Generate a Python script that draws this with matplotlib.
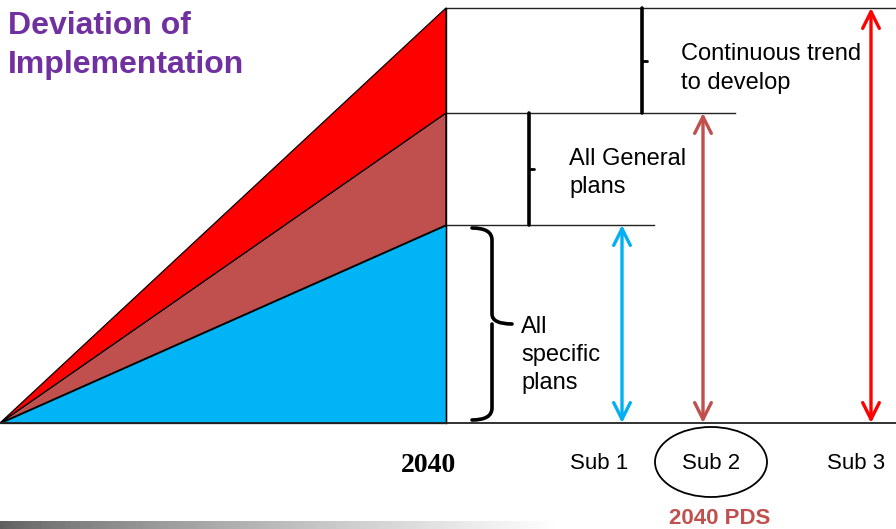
import numpy as np
import matplotlib.pyplot as plt
from matplotlib.patches import Polygon, Ellipse, PathPatch
from matplotlib.path import Path

# layer tops (height above the baseline) for the three planning layers
layer_names = ["All specific plans", "All General plans", "Continuous trend to develop"]
layer_tops = [198, 310, 415]
layer_colors = ["#00B4F5", "#C0504D", "#FF0000"]

# year at the apex of the triangle
year_label = "2040"

# sub scenarios and which layer each one reaches
sub_labels = ["Sub 1", "Sub 2", "Sub 3"]
sub_tops = [198, 310, 415]
sub_colors = ["#00B0F0", "#C0504D", "#FF0000"]
highlight_label = "2040 PDS"

W, H = 896, 529
BASE = 423  # pixel row of the baseline

fig = plt.figure(figsize=(W / 100, H / 100), dpi=100)
ax = fig.add_axes([0, 0, 1, 1])
ax.set_xlim(0, W)
ax.set_ylim(BASE - H, BASE)
ax.axis("off")

x0, x_year = 0, 446

# stacked wedges
prev = 0
for top, col in zip(layer_tops, layer_colors):
    ax.add_patch(Polygon([(x0, 0), (x_year, prev), (x_year, top)], closed=True,
                         facecolor=col, edgecolor="black", lw=0.9, zorder=2))
    prev = top

ax.plot([x_year, x_year], [0, layer_tops[-1]], color="black", lw=1.0, zorder=3)

# horizontal guide lines for each layer
line_ends = [654, 735, W]
for top, xe in zip(layer_tops, line_ends):
    ax.plot([x_year, xe], [top, top], color="#222222", lw=1.0, zorder=1)
ax.plot([0, W], [0, 0], color="#222222", lw=1.3, zorder=3)

# square brackets for the upper two layers
bracket_x = [None, 529, 642]
for i in (1, 2):
    lo, hi = layer_tops[i - 1], layer_tops[i]
    bx = bracket_x[i]
    ax.plot([bx, bx], [lo, hi], color="black", lw=2.6, solid_capstyle="round", zorder=3)
    mid = (lo + hi) / 2
    ax.plot([bx, bx + 5], [mid, mid], color="black", lw=2.0, solid_capstyle="round", zorder=3)

# curly brace for the bottom layer
bx, lo, hi = 492, 3, layer_tops[0] - 3
mid = (lo + hi) / 2
verts = [(472, hi), (492, hi), (bx, hi - 12), (bx, mid + 10), (bx, mid), (512, mid),
         (bx, mid), (bx, mid - 10), (bx, lo + 12), (bx, lo), (472, lo)]
codes = [Path.MOVETO, Path.CURVE3, Path.CURVE3, Path.LINETO, Path.CURVE3, Path.CURVE3,
         Path.MOVETO, Path.CURVE3, Path.LINETO, Path.CURVE3, Path.CURVE3]
ax.add_patch(PathPatch(Path(verts, codes), facecolor="none", edgecolor="black",
                       lw=2.6, capstyle="round", zorder=3))

# layer labels
txt = dict(fontsize=17, family="Liberation Sans", color="black", va="baseline", ha="left")
ax.text(681, BASE - 60, "Continuous trend", **txt)
ax.text(681, BASE - 89, "to develop", **txt)
ax.text(569, BASE - 165, "All General", **txt)
ax.text(569, BASE - 193, "plans", **txt)
ax.text(521, BASE - 333, "All", **txt)
ax.text(521, BASE - 361, "specific", **txt)
ax.text(521, BASE - 389, "plans", **txt)

# arrows for each sub scenario
sub_x = [622, 703, 871]
for xs, top, col in zip(sub_x, sub_tops, sub_colors):
    ax.annotate("", xy=(xs, top), xytext=(xs, 0),
                arrowprops=dict(arrowstyle="<->,head_length=0.6,head_width=0.3",
                                color=col, lw=2.4, mutation_scale=20,
                                shrinkA=0, shrinkB=0), zorder=4)

# x labels
ax.text(428, BASE - 472, year_label, fontsize=20, family="Liberation Serif",
        fontweight="bold", ha="center", va="baseline")
sub_cx = [599, 711, 856]
for xs, lab in zip(sub_cx, sub_labels):
    ax.text(xs, BASE - 469, lab, fontsize=16, family="Liberation Sans",
            ha="center", va="baseline")
ax.add_patch(Ellipse((711, BASE - 462), 112, 70, facecolor="none",
                     edgecolor="black", lw=1.3, zorder=3))
ax.text(720, BASE - 524, highlight_label, fontsize=16, family="Liberation Sans",
        fontweight="bold", color="#C0504D", ha="center", va="baseline")

# title
ax.text(8, BASE - 34, "Deviation of", fontsize=23, family="Liberation Sans",
        fontweight="bold", color="#7030A0", ha="left", va="baseline")
ax.text(8, BASE - 73, "Implementation", fontsize=23, family="Liberation Sans",
        fontweight="bold", color="#7030A0", ha="left", va="baseline")

# gradient strip at the bottom
grad = np.linspace(0, 1, 256).reshape(1, -1)
ax.imshow(np.clip(grad * 1.6, 0, 1) ** 0.8, cmap="gray", vmin=-0.6, vmax=1.0,
          extent=(0, W, BASE - H, BASE - 521), aspect="auto", zorder=0)
ax.set_xlim(0, W)
ax.set_ylim(BASE - H, BASE)

fig.savefig("out.png", dpi=100)
